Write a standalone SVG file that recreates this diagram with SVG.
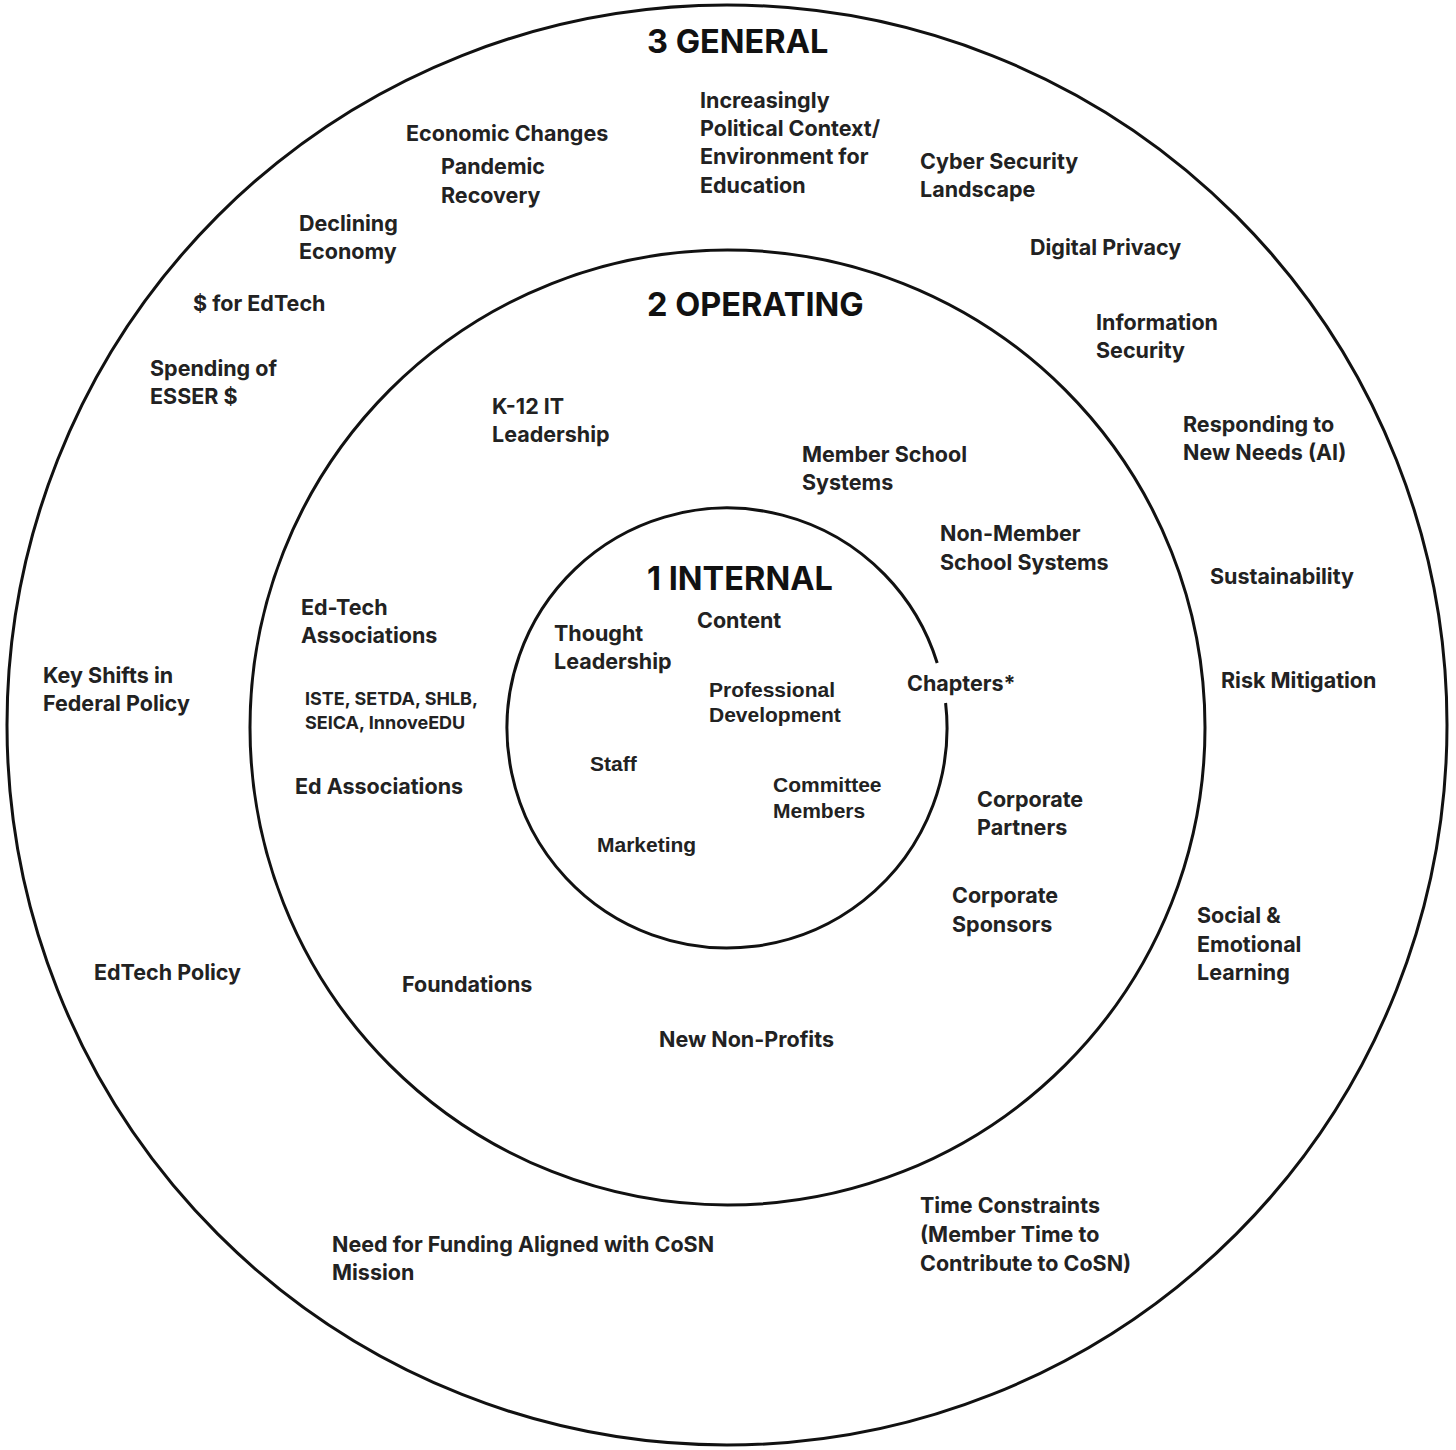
<svg xmlns="http://www.w3.org/2000/svg" width="1456" height="1450" viewBox="0 0 1456 1450">
<style>
.ring{fill:none;stroke:#111;stroke-width:3}
.t{font-family:Inter,"Open Sans","Liberation Sans",sans-serif;font-weight:700;font-size:21.5px;fill:#222}
.s{font-size:18px}
.h{font-family:Inter,"Open Sans","Liberation Sans",sans-serif;font-weight:700;font-size:32.5px;fill:#111}
.a{font-family:"Liberation Sans",Arial,sans-serif;font-weight:700;font-size:21px;fill:#222}
</style>
<rect width="1456" height="1450" fill="#fff"/>
<g id="rings">
<circle id="ring-general" class="ring" cx="727" cy="725" r="720"/>
<circle id="ring-operating" class="ring" cx="727.5" cy="727.5" r="477.5"/>
<path id="ring-internal" class="ring" d="M 945.6 703 A 220 220 0 1 1 937.2 663"/>
</g>
<g id="connectors"></g>
<g id="general">
<text class="h" x="647" y="53">3 GENERAL</text>
<g id="n-economic"><text class="t" x="406" y="141">Economic Changes</text></g>
<g id="n-pandemic"><text class="t" x="441" y="174">Pandemic</text><text class="t" x="441" y="203">Recovery</text></g>
<g id="n-political"><text class="t" x="700" y="108">Increasingly</text><text class="t" x="700" y="136">Political Context/</text><text class="t" x="700" y="164">Environment for</text><text class="t" x="700" y="193">Education</text></g>
<g id="n-cyber"><text class="t" x="920" y="169">Cyber Security</text><text class="t" x="920" y="197">Landscape</text></g>
<g id="n-declining"><text class="t" x="299" y="231">Declining</text><text class="t" x="299" y="259">Economy</text></g>
<g id="n-privacy"><text class="t" x="1030" y="255">Digital Privacy</text></g>
<g id="n-edtech-funds"><text class="t" x="193" y="311">$ for EdTech</text></g>
<g id="n-infosec"><text class="t" x="1096" y="330">Information</text><text class="t" x="1096" y="358">Security</text></g>
<g id="n-esser"><text class="t" x="150" y="376">Spending of</text><text class="t" x="150" y="404">ESSER $</text></g>
<g id="n-ai"><text class="t" x="1183" y="432">Responding to</text><text class="t" x="1183" y="460">New Needs (AI)</text></g>
<g id="n-sustain"><text class="t" x="1210" y="584">Sustainability</text></g>
<g id="n-federal"><text class="t" x="43" y="683">Key Shifts in</text><text class="t" x="43" y="711">Federal Policy</text></g>
<g id="n-risk"><text class="t" x="1221" y="688">Risk Mitigation</text></g>
<g id="n-sel"><text class="t" x="1197" y="923">Social &amp;</text><text class="t" x="1197" y="952">Emotional</text><text class="t" x="1197" y="980">Learning</text></g>
<g id="n-edtech-policy"><text class="t" x="94" y="980">EdTech Policy</text></g>
<g id="n-time"><text class="t" x="920" y="1213">Time Constraints</text><text class="t" x="920" y="1242">(Member Time to</text><text class="t" x="920" y="1271">Contribute to CoSN)</text></g>
<g id="n-funding"><text class="t" x="332" y="1252">Need for Funding Aligned with CoSN</text><text class="t" x="332" y="1280">Mission</text></g>
</g>
<g id="operating">
<text class="h" x="647" y="316">2 OPERATING</text>
<g id="n-k12"><text class="t" x="492" y="414">K-12 IT</text><text class="t" x="492" y="442">Leadership</text></g>
<g id="n-member"><text class="t" x="802" y="462">Member School</text><text class="t" x="802" y="490">Systems</text></g>
<g id="n-nonmember"><text class="t" x="940" y="541">Non-Member</text><text class="t" x="940" y="570">School Systems</text></g>
<g id="n-edtech-assoc"><text class="t" x="301" y="615">Ed-Tech</text><text class="t" x="301" y="643">Associations</text></g>
<g id="n-iste"><text class="t s" x="305" y="705">ISTE, SETDA, SHLB,</text><text class="t s" x="305" y="729">SEICA, InnoveEDU</text></g>
<g id="n-chapters"><text class="t" x="907" y="691">Chapters*</text></g>
<g id="n-ed-assoc"><text class="t" x="295" y="794">Ed Associations</text></g>
<g id="n-corp-partners"><text class="t" x="977" y="807">Corporate</text><text class="t" x="977" y="835">Partners</text></g>
<g id="n-corp-sponsors"><text class="t" x="952" y="903">Corporate</text><text class="t" x="952" y="932">Sponsors</text></g>
<g id="n-foundations"><text class="t" x="402" y="992">Foundations</text></g>
<g id="n-nonprofits"><text class="t" x="659" y="1047">New Non-Profits</text></g>
</g>
<g id="internal">
<text class="h" x="647" y="590">1 INTERNAL</text>
<g id="n-thought"><text class="t" x="554" y="641">Thought</text><text class="t" x="554" y="669">Leadership</text></g>
<g id="n-content"><text class="t" x="697" y="628">Content</text></g>
<g id="n-profdev"><text class="a" x="709" y="697">Professional</text><text class="a" x="709" y="722">Development</text></g>
<g id="n-staff"><text class="a" x="590" y="771">Staff</text></g>
<g id="n-committee"><text class="a" x="773" y="792">Committee</text><text class="a" x="773" y="818">Members</text></g>
<g id="n-marketing"><text class="a" x="597" y="852">Marketing</text></g>
</g>
</svg>
